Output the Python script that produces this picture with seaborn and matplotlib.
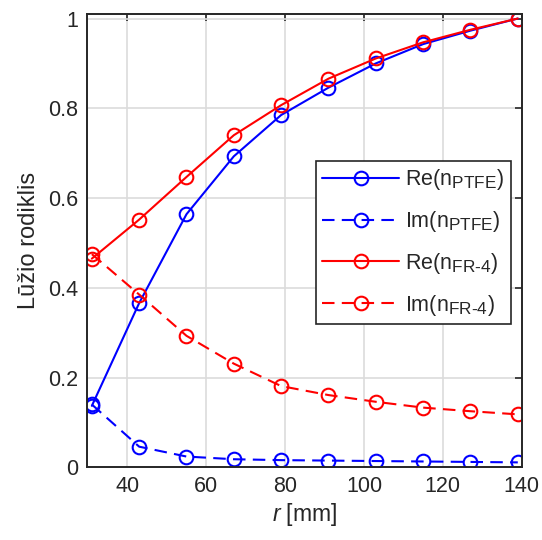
import matplotlib
matplotlib.use("Agg")
import matplotlib.pyplot as plt
import seaborn as sns
import numpy as np

try:
    import matplotlib._mathtext as _mt
    _mt.SHRINK_FACTOR = 0.8
    _mt._FontConstantsBase.sub1 = 1.0
    _mt._FontConstantsBase.subdrop = 0.5
except Exception:
    pass

# ---- data ----
r_mm = [31, 43, 55, 67, 79, 91, 103, 115, 127, 139]
re_ptfe = [0.137, 0.366, 0.564, 0.693, 0.785, 0.846, 0.900, 0.943, 0.973, 1.000]
im_ptfe = [0.140, 0.046, 0.024, 0.018, 0.016, 0.015, 0.014, 0.013, 0.012, 0.011]
re_fr4 = [0.465, 0.552, 0.647, 0.740, 0.807, 0.866, 0.911, 0.947, 0.975, 1.000]
im_fr4 = [0.475, 0.385, 0.293, 0.231, 0.181, 0.161, 0.146, 0.133, 0.125, 0.118]

labels = ["Re(n$_{\\mathrm{PTFE}}$)", "Im(n$_{\\mathrm{PTFE}}$)",
          "Re(n$_{\\mathrm{FR\u20104}}$)", "Im(n$_{\\mathrm{FR\u20104}}$)"]
xticks = [40, 60, 80, 100, 120, 140]
xtick_labels = ["40", "60", "80", "100", "120", "140"]
yticks = [0, 0.2, 0.4, 0.6, 0.8, 1.0]
ytick_labels = ["0", "0.2", "0.4", "0.6", "0.8", "1"]
xlabel = r"$\mathit{r}$ [mm]"
ylabel = "Lūžio rodiklis"

sns.set_theme(style="white")
plt.rcParams["font.family"] = ["Liberation Sans", "DejaVu Sans"]
plt.rcParams["mathtext.fontset"] = "custom"
plt.rcParams["mathtext.rm"] = "Liberation Sans"
plt.rcParams["mathtext.it"] = "Liberation Sans:italic"
plt.rcParams["mathtext.bf"] = "Liberation Sans:bold"

fig = plt.figure(figsize=(5.42, 5.40), dpi=100)
ax = fig.add_axes([0.160, 0.1346, 0.8026, 0.8394])

series = [re_ptfe, im_ptfe, re_fr4, im_fr4]
colors = ["#0000ff", "#0000ff", "#ff0000", "#ff0000"]
styles = ["-", (0, (6, 3.5)), "-", (0, (6, 3.5))]
for vals, col, ls, lab in zip(series, colors, styles, labels):
    sns.lineplot(x=r_mm, y=vals, ax=ax, color=col, linestyle=ls, linewidth=1.5,
                 marker="o", markersize=9.8, markerfacecolor="none",
                 markeredgecolor=col, markeredgewidth=1.5, label=lab)

ax.set_xlim(29.7, 140)
ax.set_ylim(0, 1.01)
ax.set_xticks(xticks)
ax.set_xticklabels(xtick_labels)
ax.set_yticks(yticks)
ax.set_yticklabels(ytick_labels)
ax.grid(True, color="#dcdcdc", linewidth=1.2)
ax.set_axisbelow(True)
for s in ax.spines.values():
    s.set_visible(True)
    s.set_color("#262626")
    s.set_linewidth(1.4)
ax.tick_params(direction="in", top=True, right=True, length=5, width=1.2,
               labelsize=15.5, colors="#262626", pad=6)
ax.set_xlabel(xlabel, fontsize=16.5, color="#262626", labelpad=3)
ax.set_ylabel(ylabel, fontsize=17, color="#262626", labelpad=6)

leg = ax.legend(loc="upper right", bbox_to_anchor=(0.975, 0.676), fontsize=15.5,
                frameon=True, fancybox=False, handlelength=3.55, labelspacing=0.78,
                borderpad=0.3, handletextpad=0.3, borderaxespad=0)
leg.get_frame().set_edgecolor("#262626")
leg.get_frame().set_linewidth(1.2)
leg.get_frame().set_alpha(1)

fig.savefig("out.png", dpi=100)
